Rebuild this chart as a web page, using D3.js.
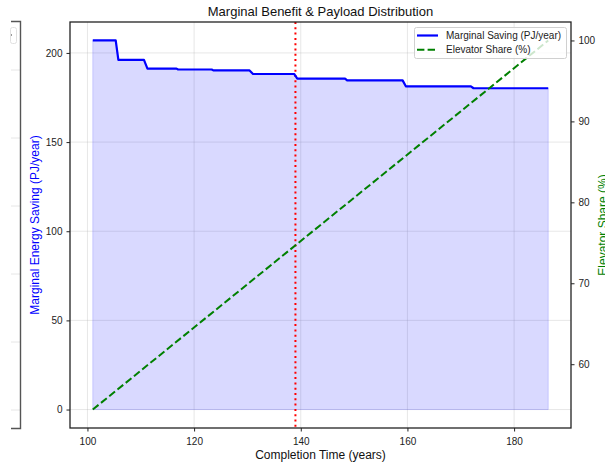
<!DOCTYPE html>
<html>
<head>
<meta charset="utf-8">
<script src="https://cdn.jsdelivr.net/npm/d3@7"></script>
<style>
  html, body { margin: 0; padding: 0; background: #fff; overflow: hidden; }
  svg { display: block; font-family: "Liberation Sans", Arial, Helvetica, sans-serif; }
</style>
</head>
<body>
<svg id="chart" width="605" height="465"></svg>
<script>
// Marginal energy saving (PJ/year) as a stepped series over completion time
const stepYears = [101.0, 105.3, 105.8, 110.6, 111.25, 116.7, 117.0, 123.3, 123.6, 130.4,
                   131.05, 138.75, 139.35, 148.3, 148.7, 159.1, 159.7, 171.9, 172.4, 186.4];
const savings   = [207.0, 207.0, 196.1, 196.1, 191.2, 191.2, 190.7, 190.7, 190.2, 190.2,
                   188.2, 188.2, 185.6, 185.6, 184.6, 184.6, 181.3, 181.3, 180.2, 180.2];

// Elevator share of payload (%) rises linearly with completion time
const shareYears = [101.0, 186.4];
const shares     = [54.4, 100.0];

// Selected completion time marked with a vertical line
const markerYear = 139.0;

const xTicks = [100, 120, 140, 160, 180];
const leftTicks = [0, 50, 100, 150, 200];
const rightTicks = [60, 70, 80, 90, 100];

const legendLabels = ["Marginal Saving (PJ/year)", "Elevator Share (%)"];

const svg = d3.select("#chart");
const plot = { left: 70, right: 571, top: 22, bottom: 428 };

// Matplotlib-style 5% padding around the data ranges
function padded(lo, hi) { const p = (hi - lo) * 0.05; return [lo - p, hi + p]; }

const x = d3.scaleLinear().domain(padded(d3.min(stepYears), d3.max(stepYears))).range([plot.left, plot.right]);
const yL = d3.scaleLinear().domain(padded(0, d3.max(savings))).range([plot.bottom, plot.top]);
const yR = d3.scaleLinear().domain(padded(d3.min(shares), d3.max(shares))).range([plot.bottom, plot.top]);

// Edge of a neighbouring panel at the far left
const side = svg.append("g");
[70, 138, 206, 274, 342, 410].forEach(gy => {
  side.append("line").attr("x1", 11).attr("x2", 20).attr("y1", gy).attr("y2", gy)
    .attr("stroke", "#e6e6e6").attr("stroke-width", 1);
});
side.append("rect").attr("x", 10.5).attr("y", 27.5).attr("width", 6).attr("height", 16)
  .attr("rx", 2).attr("fill", "#fff").attr("stroke", "#e0e0e0");
side.append("rect").attr("x", 11).attr("y", 34).attr("width", 1).attr("height", 2).attr("fill", "#999");
side.append("path").attr("d", "M11,21.5H20.5V428.5H11")
  .attr("fill", "none").attr("stroke", "#555").attr("stroke-width", 1.4);

// Grid
const grid = svg.append("g");
xTicks.forEach(t => grid.append("line")
  .attr("x1", x(t)).attr("x2", x(t)).attr("y1", plot.top).attr("y2", plot.bottom)
  .attr("stroke", "#b0b0b0").attr("stroke-opacity", 0.3).attr("stroke-width", 1));
leftTicks.forEach(t => grid.append("line")
  .attr("x1", plot.left).attr("x2", plot.right).attr("y1", yL(t)).attr("y2", yL(t))
  .attr("stroke", "#b0b0b0").attr("stroke-opacity", 0.3).attr("stroke-width", 1));

svg.append("clipPath").attr("id", "plotclip").append("rect")
  .attr("x", plot.left).attr("y", plot.top)
  .attr("width", plot.right - plot.left).attr("height", plot.bottom - plot.top);

const data = stepYears.map((t, i) => ({ t, v: savings[i] }));

const marks = svg.append("g").attr("clip-path", "url(#plotclip)");

// Shaded area under the saving curve
marks.append("path").datum(data)
  .attr("d", d3.area().x(d => x(d.t)).y0(yL(0)).y1(d => yL(d.v)))
  .attr("fill", "rgba(0,0,255,0.15)")
  .attr("stroke", "rgba(0,0,255,0.15)").attr("stroke-width", 1);

// Marker line
marks.append("line")
  .attr("x1", x(markerYear)).attr("x2", x(markerYear))
  .attr("y1", plot.top).attr("y2", plot.bottom)
  .attr("stroke", "#ff0000").attr("stroke-width", 2).attr("stroke-dasharray", "2,3.3");

// Saving curve
marks.append("path").datum(data)
  .attr("d", d3.line().x(d => x(d.t)).y(d => yL(d.v)))
  .attr("fill", "none").attr("stroke", "#0000ff").attr("stroke-width", 2.2)
  .attr("stroke-linejoin", "round");

// Elevator share line
const shareData = shareYears.map((t, i) => ({ t, v: shares[i] }));
marks.append("path").datum(shareData)
  .attr("d", d3.line().x(d => x(d.t)).y(d => yR(d.v)))
  .attr("fill", "none").attr("stroke", "#008000").attr("stroke-width", 2)
  .attr("stroke-dasharray", "7.4,3.2");

// Axes
const fontTick = "10px";
const xAxis = svg.append("g").attr("transform", `translate(0,${plot.bottom})`)
  .call(d3.axisBottom(x).tickValues(xTicks).tickSize(3.5).tickPadding(6));
const lAxis = svg.append("g").attr("transform", `translate(${plot.left},0)`)
  .call(d3.axisLeft(yL).tickValues(leftTicks).tickSize(3.5).tickPadding(4));
const rAxis = svg.append("g").attr("transform", `translate(${plot.right},0)`)
  .call(d3.axisRight(yR).tickValues(rightTicks).tickSize(3.5).tickPadding(4));
[xAxis, lAxis, rAxis].forEach(a => {
  a.select(".domain").remove();
  a.selectAll(".tick line").attr("stroke", "#222").attr("stroke-width", 1);
  a.selectAll(".tick text").attr("fill", "#222").style("font-size", fontTick)
    .style("font-family", "'Liberation Sans', Arial, sans-serif");
});

// Frame
svg.append("rect").attr("x", plot.left).attr("y", plot.top)
  .attr("width", plot.right - plot.left).attr("height", plot.bottom - plot.top)
  .attr("fill", "none").attr("stroke", "#222").attr("stroke-width", 1.3);

// Titles
svg.append("text").attr("x", (plot.left + plot.right) / 2).attr("y", 16)
  .attr("text-anchor", "middle").attr("fill", "#111").style("font-size", "13px")
  .text("Marginal Benefit & Payload Distribution");
svg.append("text").attr("x", (plot.left + plot.right) / 2).attr("y", 459)
  .attr("text-anchor", "middle").attr("fill", "#111").style("font-size", "12px")
  .text("Completion Time (years)");
svg.append("text").attr("transform", `translate(39,${(plot.top + plot.bottom) / 2}) rotate(-90)`)
  .attr("text-anchor", "middle").attr("fill", "#0000ff").style("font-size", "12px")
  .text("Marginal Energy Saving (PJ/year)");
svg.append("text").attr("transform", `translate(607,${(plot.top + plot.bottom) / 2}) rotate(-90)`)
  .attr("text-anchor", "middle").attr("fill", "#008000").style("font-size", "12px")
  .text("Elevator Share (%)");

// Legend
const lg = svg.append("g").attr("transform", "translate(414,27)");
lg.append("rect").attr("x", 0.5).attr("y", 0.5).attr("width", 152).attr("height", 31).attr("rx", 2)
  .attr("fill", "#fff").attr("fill-opacity", 0.8).attr("stroke", "#d0d0d0");
const legendStyles = [
  { color: "#0000ff", dash: null, w: 2.2 },
  { color: "#008000", dash: "7.4,3.2", w: 2 }
];
legendLabels.forEach((lab, i) => {
  const yy = 8.5 + i * 14.3;
  lg.append("line").attr("x1", 3).attr("x2", 24).attr("y1", yy).attr("y2", yy)
    .attr("stroke", legendStyles[i].color).attr("stroke-width", legendStyles[i].w)
    .attr("stroke-dasharray", legendStyles[i].dash);
  lg.append("text").attr("x", 32).attr("y", yy + 3.6).attr("fill", "#222")
    .style("font-size", "10px").text(lab);
});
</script>
</body>
</html>
